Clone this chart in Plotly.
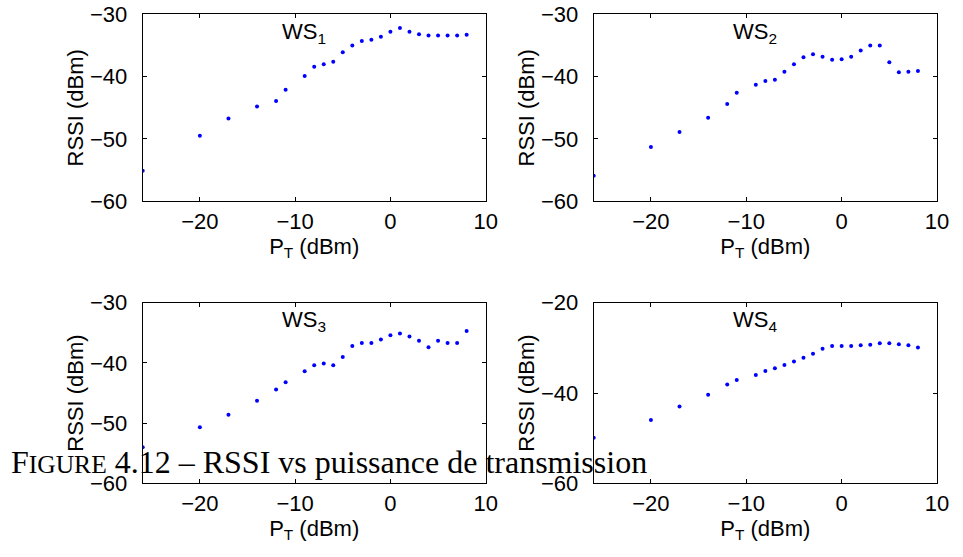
import plotly.graph_objects as go

# transmit power (dBm), same for every station
pt = [-26, -20, -17, -14, -12, -11, -9, -8, -7, -6, -5, -4, -3, -2, -1, 0, 1, 2, 3, 4, 5, 6, 7, 8]

# RSSI (dBm) per weather station
ws1 = [-55.1, -49.5, -46.7, -44.8, -43.9, -42.1, -39.9, -38.4, -38.0, -37.6, -36.1, -35.0,
       -34.3, -34.1, -33.6, -32.8, -32.2, -32.8, -33.2, -33.4, -33.4, -33.4, -33.4, -33.3]
ws2 = [-55.9, -51.3, -48.9, -46.6, -44.4, -42.6, -41.3, -40.7, -40.5, -39.2, -38.0, -36.9,
       -36.4, -36.8, -37.3, -37.2, -36.8, -35.8, -35.0, -35.0, -37.7, -39.3, -39.2, -39.1]
ws3 = [-54.0, -50.7, -48.6, -46.3, -44.4, -43.2, -41.4, -40.4, -40.1, -40.4, -39.0, -37.2,
       -36.7, -36.7, -36.1, -35.4, -35.1, -35.6, -36.3, -37.4, -36.3, -36.7, -36.7, -34.7]
ws4 = [-49.9, -46.0, -43.0, -40.4, -38.1, -37.1, -36.0, -35.1, -34.5, -33.8, -33.0, -32.2,
       -31.3, -30.2, -29.6, -29.6, -29.6, -29.4, -29.3, -29.0, -29.0, -29.2, -29.4, -29.9]

series = [ws1, ws2, ws3, ws4]
names = ['WS<sub>1</sub>', 'WS<sub>2</sub>', 'WS<sub>3</sub>', 'WS<sub>4</sub>']
y_ranges = [[-60, -30], [-60, -30], [-60, -30], [-60, -20]]
y_ticks = [[-60, -50, -40, -30], [-60, -50, -40, -30], [-60, -50, -40, -30], [-60, -40, -20]]
x_ticks = [-20, -10, 0, 10]

W, H = 963, 557
# panel boxes in pixels (left, right, top, bottom)
boxes = [(142.7, 485.7, 14.3, 201.3), (593.7, 937.0, 14.3, 201.3),
         (142.7, 485.7, 302.7, 483.3), (593.7, 937.0, 302.7, 483.3)]

fig = go.Figure()
tick_font = dict(family='Liberation Sans, Arial, sans-serif', size=22, color='black')

for i, (vals, (l, r, t, b)) in enumerate(zip(series, boxes)):
    n = '' if i == 0 else str(i + 1)
    fig.add_trace(go.Scatter(x=pt, y=vals, mode='markers', xaxis='x' + n, yaxis='y' + n,
                             marker=dict(color='#0000ff', size=4), showlegend=False))
    ax = dict(showline=True, linecolor='black', linewidth=1, mirror='ticks', ticks='inside',
              ticklen=4, tickcolor='black', showgrid=False, zeroline=False, tickfont=tick_font,
              automargin=False, ticklabeloverflow='allow')
    fig.layout['xaxis' + n] = dict(ax, domain=[l / W, r / W], range=[-26, 10], tickvals=x_ticks,
                                   anchor='y' + n, ticklabelstandoff=0,
                                   title=dict(text='P<sub>T</sub> (dBm)', font=tick_font, standoff=0))
    fig.layout['yaxis' + n] = dict(ax, domain=[1 - b / H, 1 - t / H], range=y_ranges[i],
                                   tickvals=y_ticks[i], anchor='x' + n, ticklabelstandoff=10,
                                   title=dict(text='RSSI (dBm)', font=tick_font, standoff=0))
    fig.add_annotation(text=names[i], xref='x' + n + ' domain', yref='y' + n + ' domain',
                       x=0.47, y=0.985, xanchor='center', yanchor='top', showarrow=False,
                       font=tick_font)

# figure caption that sits over the lower panels
fig.add_annotation(
    text='F<span style="font-size:25.5px">IGURE</span> 4.12 – RSSI vs puissance de transmission',
    xref='paper', yref='paper', x=9 / W, y=1 - 462 / H, xanchor='left', yanchor='middle',
    showarrow=False, font=dict(family='Liberation Serif, serif', size=32, color='black'))

fig.update_layout(width=W, height=H, margin=dict(l=0, r=0, t=0, b=0),
                  plot_bgcolor='white', paper_bgcolor='white')

# drop the default page margin so the figure fills the window exactly
fig.write_html('out.html', config={'displayModeBar': False},
               post_script="document.body.style.margin='0px';")
